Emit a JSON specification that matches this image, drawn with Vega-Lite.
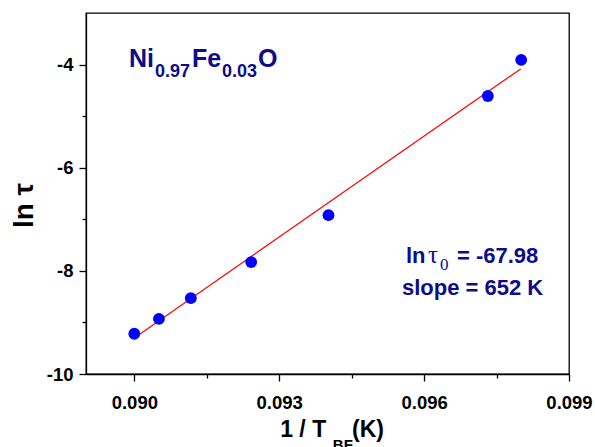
{
  "$schema": "https://vega.github.io/schema/vega-lite/v6.json",
  "autosize": {"type": "none"},
  "padding": {"left": 86, "top": 13, "right": 26, "bottom": 73},
  "width": 483,
  "height": 361,
  "background": "white",
  "config": {
    "view": {"stroke": "black", "strokeWidth": 1.3},
    "axis": {
      "grid": false,
      "domainColor": "black",
      "domainWidth": 1.3,
      "tickColor": "black",
      "tickWidth": 1.3,
      "labelFont": "Liberation Sans",
      "labelFontWeight": "bold",
      "labelFontSize": 18.5,
      "labelColor": "black",
      "titleFont": "Liberation Sans",
      "titleFontWeight": "bold",
      "titleColor": "black"
    },
    "text": {"font": "Liberation Sans", "align": "left", "baseline": "alphabetic"}
  },
  "datasets": {
    "relaxation": [
      {"inv_T": 0.0900, "ln_tau": -9.22},
      {"inv_T": 0.09051, "ln_tau": -8.93},
      {"inv_T": 0.09117, "ln_tau": -8.53},
      {"inv_T": 0.09242, "ln_tau": -7.83},
      {"inv_T": 0.09402, "ln_tau": -6.92},
      {"inv_T": 0.09732, "ln_tau": -4.61},
      {"inv_T": 0.09801, "ln_tau": -3.91}
    ],
    "fit": [
      {"inv_T": 0.0900, "ln_tau": -9.300},
      {"inv_T": 0.0980, "ln_tau": -4.084}
    ]
  },
  "layer": [
    {
      "data": {"name": "fit"},
      "mark": {"type": "line", "color": "#FF0000", "strokeWidth": 1.2},
      "encoding": {
        "x": {
          "field": "inv_T",
          "type": "quantitative",
          "scale": {"domain": [0.089, 0.099], "nice": false, "zero": false},
          "axis": {
            "title": null,
            "values": [0.090, 0.0915, 0.093, 0.0945, 0.096, 0.0975, 0.099],
            "labelExpr": "round(datum.value * 1000) % 3 === 0 ? format(datum.value, '.3f') : ''",
            "tickSize": {"condition": {"test": "round(datum.value * 1000) % 3 === 0", "value": 7}, "value": 4},
            "labelPadding": 12,
            "labelFlush": false
          }
        },
        "y": {
          "field": "ln_tau",
          "type": "quantitative",
          "scale": {"domain": [-10, -3], "nice": false, "zero": false},
          "axis": {
            "title": "ln τ",
            "titleFontSize": 28,
            "titlePadding": 8,
            "titleY": 192,
            "values": [-10, -9, -8, -7, -6, -5, -4],
            "labelExpr": "datum.value % 2 === 0 ? '' + datum.value : ''",
            "tickSize": {"condition": {"test": "datum.value % 2 === 0", "value": 7}, "value": 4},
            "labelPadding": 6,
            "labelFlush": false
          }
        }
      }
    },
    {
      "data": {"name": "relaxation"},
      "mark": {"type": "point", "filled": true, "color": "#0000FF", "opacity": 1, "size": 140},
      "encoding": {
        "x": {"field": "inv_T", "type": "quantitative"},
        "y": {"field": "ln_tau", "type": "quantitative"}
      }
    },
    {
      "data": {"values": [
        {"x": 0.08989, "y": -4.047, "t": "Ni"},
        {"x": 0.091195, "y": -4.047, "t": "Fe"},
        {"x": 0.092561, "y": -4.047, "t": "O"}
      ]},
      "mark": {"type": "text", "fontSize": 25, "fontWeight": "bold", "color": "#0C0C8C"},
      "encoding": {
        "x": {"field": "x", "type": "quantitative"},
        "y": {"field": "y", "type": "quantitative"},
        "text": {"field": "t"}
      }
    },
    {
      "data": {"values": [
        {"x": 0.090429, "y": -4.241, "t": "0.97"},
        {"x": 0.091816, "y": -4.241, "t": "0.03"}
      ]},
      "mark": {"type": "text", "fontSize": 18, "fontWeight": "bold", "color": "#0C0C8C"},
      "encoding": {
        "x": {"field": "x", "type": "quantitative"},
        "y": {"field": "y", "type": "quantitative"},
        "text": {"field": "t"}
      }
    },
    {
      "data": {"values": [
        {"x": 0.095625, "y": -7.848, "t": "ln"},
        {"x": 0.096681, "y": -7.848, "t": "= -67.98"},
        {"x": 0.095542, "y": -8.468, "t": "slope = 652 K"}
      ]},
      "mark": {"type": "text", "fontSize": 22, "fontWeight": "bold", "color": "#0C0C8C"},
      "encoding": {
        "x": {"field": "x", "type": "quantitative"},
        "y": {"field": "y", "type": "quantitative"},
        "text": {"field": "t"}
      }
    },
    {
      "data": {"values": [
        {"x": 0.096081, "y": -7.848, "t": "τ"}
      ]},
      "mark": {"type": "text", "font": "Liberation Serif", "fontSize": 25, "color": "#0C0C8C"},
      "encoding": {
        "x": {"field": "x", "type": "quantitative"},
        "y": {"field": "y", "type": "quantitative"},
        "text": {"field": "t"}
      }
    },
    {
      "data": {"values": [
        {"x": 0.096330, "y": -7.983, "t": "0"}
      ]},
      "mark": {"type": "text", "font": "Liberation Serif", "fontSize": 17, "color": "#0C0C8C"},
      "encoding": {
        "x": {"field": "x", "type": "quantitative"},
        "y": {"field": "y", "type": "quantitative"},
        "text": {"field": "t"}
      }
    },
    {
      "data": {"values": [
        {"x": 0.093020, "y": -11.222, "t": "1 / T"},
        {"x": 0.094507, "y": -11.222, "t": "(K)"}
      ]},
      "mark": {"type": "text", "fontSize": 23, "fontWeight": "bold", "color": "black"},
      "encoding": {
        "x": {"field": "x", "type": "quantitative"},
        "y": {"field": "y", "type": "quantitative"},
        "text": {"field": "t"}
      }
    },
    {
      "data": {"values": [
        {"x": 0.094110, "y": -11.47, "t": "BF"}
      ]},
      "mark": {"type": "text", "fontSize": 15, "fontWeight": "bold", "color": "black"},
      "encoding": {
        "x": {"field": "x", "type": "quantitative"},
        "y": {"field": "y", "type": "quantitative"},
        "text": {"field": "t"}
      }
    }
  ]
}
